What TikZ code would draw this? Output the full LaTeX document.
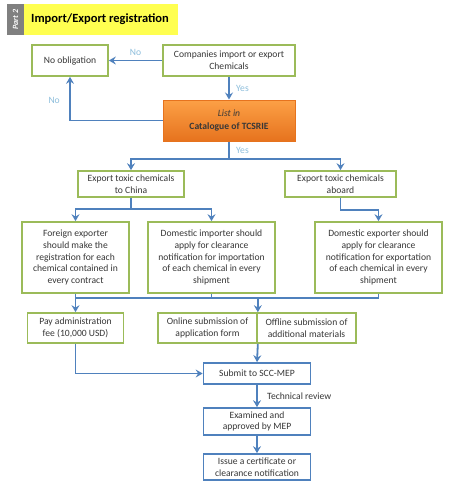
\documentclass[tikz,border=0pt]{standalone}
\usepackage{fontspec}
\setmainfont{Carlito}
\usetikzlibrary{arrows.meta}

\definecolor{boxgreen}{RGB}{155,187,89}
\definecolor{lineblue}{RGB}{79,129,189}
\definecolor{labelblue}{RGB}{141,190,220}
\definecolor{textgray}{RGB}{55,55,55}
\definecolor{titleyellow}{RGB}{255,255,80}
\definecolor{tabgray}{RGB}{128,128,128}
\definecolor{orangetop}{RGB}{252,160,70}
\definecolor{orangebot}{RGB}{230,115,30}

\begin{document}
\begin{tikzpicture}[x=1pt, y=-1pt,
  greenbox/.style={draw=boxgreen, line width=1.7pt, fill=white, align=center,
    text=textgray, font=\fontsize{9.6}{11.8}\selectfont, inner sep=0pt},
  bluebox/.style={greenbox, draw=lineblue},
  flow/.style={draw=lineblue, line width=1.8pt},
  arr/.style={flow, -{Stealth[length=7pt, width=8pt, inset=2.5pt]}},
  yesno/.style={text=labelblue, font=\fontsize{9.6}{11.8}\selectfont}]
\useasboundingbox[fill=white] (0,0) rectangle (448,488);

% title
\fill[tabgray] (7,4) rectangle (24,35);
\fill[titleyellow] (24,4) rectangle (178,35);
\node[rotate=90, text=white, font=\fontsize{8}{9}\selectfont\bfseries\itshape] (tab) at (15.5,19.5) {Part 2};
\node[anchor=west, font=\fontsize{12.5}{14}\selectfont\bfseries, inner sep=0pt] (title) at (31,19.5) {Import/Export registration};

% boxes
\node[greenbox, minimum width=76pt, minimum height=31pt] (noob) at (70,60.5) {No obligation};
\node[greenbox, minimum width=132pt, minimum height=31pt] (comp) at (229,60.5) {Companies import or export\\Chemicals};
\node[draw=orangebot, line width=1pt, top color=orangetop, bottom color=orangebot,
  minimum width=132pt, minimum height=41pt, align=center, text=textgray,
  font=\fontsize{9.6}{12.5}\selectfont, inner sep=0pt] (cat) at (229,120.5) {\textit{List in}\\\textbf{Catalogue of TCSRIE}};
\node[greenbox, minimum width=106pt, minimum height=26pt] (china) at (131,184) {Export toxic chemicals\\to China};
\node[greenbox, minimum width=111pt, minimum height=26pt] (aboard) at (340.5,184) {Export toxic chemicals\\aboard};
\node[greenbox, minimum width=107pt, minimum height=71pt] (foreign) at (75.5,257.5) {Foreign exporter\\should make the\\registration for each\\chemical contained in\\every contract};
\node[greenbox, minimum width=127pt, minimum height=71pt] (dimp) at (211.5,257.5) {Domestic importer should\\apply for clearance\\notification for importation\\of each chemical in every\\shipment};
\node[greenbox, minimum width=127pt, minimum height=71pt] (dexp) at (378.5,257.5) {Domestic exporter should\\apply for clearance\\notification for exportation\\of each chemical in every\\shipment};
\node[greenbox, minimum width=96pt, minimum height=30pt] (pay) at (75.5,328) {Pay administration\\fee (10,000 USD)};
\node[greenbox, minimum width=99pt, minimum height=30pt] (online) at (207.5,328) {Online submission of\\application form};
\node[greenbox, minimum width=99pt, minimum height=30pt] (offline) at (306.5,328) {Offline submission of\\additional materials};
\node[bluebox, minimum width=107pt, minimum height=21pt] (submit) at (257,373.5) {Submit to SCC-MEP};
\node[bluebox, minimum width=107pt, minimum height=27pt] (exam) at (257,421.5) {Examined and\\approved by MEP};
\node[bluebox, minimum width=107pt, minimum height=26pt] (issue) at (257,467) {Issue a certificate or\\clearance notification};

% connectors
\draw[arr] (comp.west) -- node[yesno, above=1pt] {No} (noob.east);
\draw[arr] (comp.south) -- node[yesno, right=3pt] {Yes} (cat.north);
\draw[arr] (cat.west) -| node[yesno, pos=0.73, left=6pt] {No} (noob.south);
\coordinate (split1) at (229,159);
\draw[flow] (cat.south) -- node[yesno, right=3pt] {Yes} (split1);
\draw[arr] (split1) -| (china.north);
\draw[arr] (split1) -| (aboard.north);
\coordinate (split2) at (131,209);
\draw[flow] (china.south) -- (split2);
\draw[arr] (split2) -| (foreign.north);
\draw[arr] (split2) -| (dimp.north);
\draw[arr] (aboard.south) -- ++(0,12) -| (dexp.north);
\coordinate (merge) at (75.5,298);
\draw[flow] (foreign.south) -- (merge) -- (merge -| dexp.south) -- (dexp.south);
\draw[flow] (dimp.south) -- (dimp.south |- merge);
\draw[arr] (merge) -- (pay.north);
\draw[arr] (merge -| online.east) -- (online.north east);
\draw[arr] (online.south east) -- (submit.north);
\draw[arr] (pay.south) |- (submit.west);
\draw[arr] (submit.south) -- node[right=6pt, text=textgray, font=\fontsize{9.6}{11.8}\selectfont] {Technical review} (exam.north);
\draw[arr] (exam.south) -- (issue.north);
\end{tikzpicture}
\end{document}
